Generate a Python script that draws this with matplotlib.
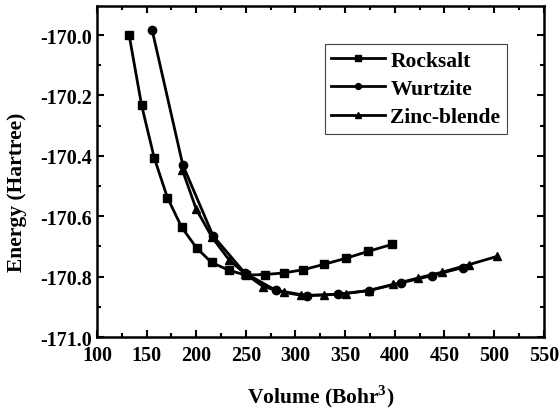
import matplotlib
matplotlib.use("Agg")
import matplotlib.pyplot as plt
from matplotlib.ticker import MultipleLocator

plt.rcParams['font.family'] = ['Liberation Serif', 'DejaVu Serif']
plt.rcParams['font.weight'] = 'bold'
plt.rcParams['mathtext.fontset'] = 'custom'
plt.rcParams['mathtext.rm'] = 'Liberation Serif:bold'

rock_v = [132.5, 145, 157.7, 171, 185.3, 200.4, 215.5, 233, 250, 269, 288, 308, 329, 351, 373.5, 397.4]
rock_e = [-170.0, -170.232, -170.406, -170.538, -170.636, -170.705, -170.753, -170.779, -170.795, -170.793, -170.788, -170.777, -170.759, -170.739, -170.716, -170.693]

wurt_v = [155.7, 186.5, 217, 249, 280, 312, 343, 374, 405.8, 437, 468.3]
wurt_e = [-169.984, -170.43, -170.665, -170.788, -170.845, -170.863, -170.858, -170.846, -170.821, -170.797, -170.770]

zinc_v = [186, 200, 216, 233, 249, 267.5, 288, 306, 328.6, 351, 374, 398, 423, 448, 475, 503]
zinc_e = [-170.446, -170.576, -170.67, -170.744, -170.79, -170.833, -170.852, -170.862, -170.861, -170.856, -170.846, -170.826, -170.805, -170.785, -170.76, -170.733]

fig = plt.figure(figsize=(5.6, 4.1), dpi=100)
ax = fig.add_axes([0.173, 0.1756, 0.798, 0.807])

lw = 2.0
ax.plot(rock_v, rock_e, '-', color='black', lw=lw, marker='s', ms=5.5, label='Rocksalt')
ax.plot(wurt_v, wurt_e, '-', color='black', lw=lw, marker='o', ms=6, label='Wurtzite')
ax.plot(zinc_v, zinc_e, '-', color='black', lw=lw, marker='^', ms=6, label='Zinc-blende')

ax.set_xlim(100, 550)
ax.set_ylim(-171.0, -169.904)
ax.xaxis.set_major_locator(MultipleLocator(50))
ax.xaxis.set_minor_locator(MultipleLocator(25))
ax.yaxis.set_major_locator(MultipleLocator(0.2))
ax.yaxis.set_minor_locator(MultipleLocator(0.1))
ax.yaxis.set_major_formatter(matplotlib.ticker.FormatStrFormatter('%.1f'))

ax.tick_params(which='both', direction='in', top=True, right=True, width=1.5, labelsize=14.5)
ax.tick_params(which='major', length=5)
ax.tick_params(which='minor', length=3)
ax.tick_params(axis='x', pad=6)
for s in ax.spines.values():
    s.set_linewidth(1.8)

ax.set_xlabel(r'Volume (Bohr$^3$)', fontsize=15.5, fontweight='bold', labelpad=12)
ax.set_ylabel('Energy (Hartree)', fontsize=15.5, fontweight='bold', labelpad=4)
ax.yaxis.set_label_coords(-0.157, 0.44)

leg = ax.legend(loc='upper right', bbox_to_anchor=(0.917, 0.885), fontsize=15.5,
                frameon=True, fancybox=False, edgecolor='#444444', framealpha=1,
                handlelength=2.5, markerscale=0.7, borderpad=0.3, labelspacing=0.38,
                handletextpad=0.25, borderaxespad=0.0)
leg.get_frame().set_linewidth(0.8)
for t in leg.get_texts():
    t.set_fontweight('bold')

fig.savefig('out.png', dpi=100)
